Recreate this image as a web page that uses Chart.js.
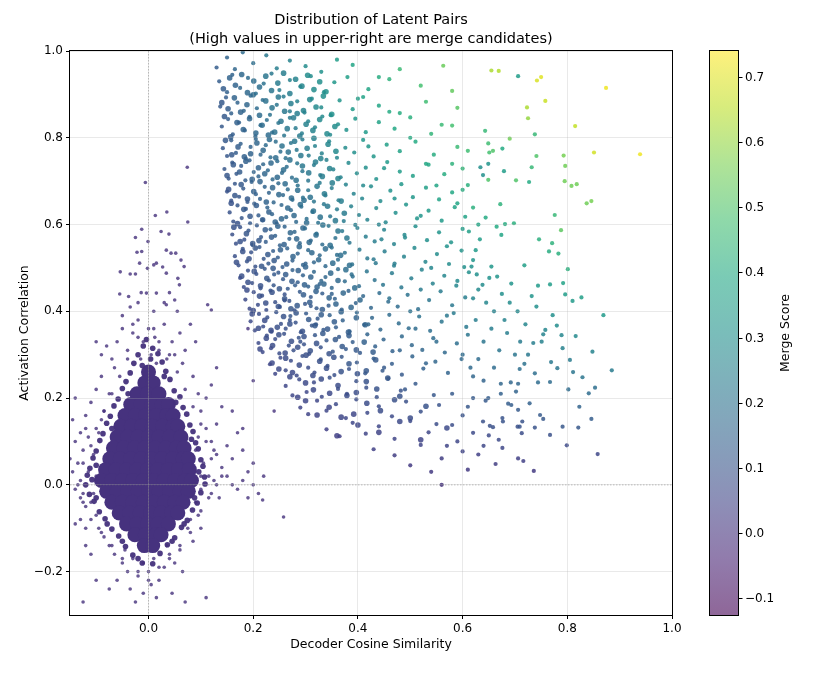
<!DOCTYPE html>
<html>
<head>
<meta charset="utf-8">
<script src="https://cdn.jsdelivr.net/npm/chart.js@4.4.1/dist/chart.umd.min.js"></script>
<style>
  html, body { margin: 0; padding: 0; background: #fff; }
  #wrap { width: 824px; height: 679px; }
</style>
</head>
<body>
<div id="wrap"><canvas id="chart" width="824" height="679"></canvas></div>
<script>
// tick values
const xTicks = [0, 0.2, 0.4, 0.6, 0.8, 1.0];
const yTicks = [-0.2, 0, 0.2, 0.4, 0.6, 0.8, 1.0];
const scoreTicks = [-0.1, 0, 0.1, 0.2, 0.3, 0.4, 0.5, 0.6, 0.7];
const scoreMin = -0.126;
const scoreMax = 0.74;

// unrelated pairs: merge score close to zero
const coreScore = -0.005;

// dense centre of the unrelated pairs, [cosine, correlation]
const coreBlob = [
  [0, 0.26],
  [-0.007, 0.235], [0.009, 0.235],
  [-0.022, 0.21], [-0.002, 0.21], [0.02, 0.21],
  [-0.034, 0.185], [-0.014, 0.185], [0.006, 0.185], [0.026, 0.185], [0.038, 0.185],
  [-0.045, 0.16], [-0.025, 0.16], [-0.005, 0.16], [0.015, 0.16], [0.035, 0.16], [0.047, 0.16],
  [-0.053, 0.135], [-0.033, 0.135], [-0.013, 0.135], [0.007, 0.135], [0.027, 0.135], [0.047, 0.135], [0.056, 0.135],
  [-0.06, 0.11], [-0.04, 0.11], [-0.02, 0.11], [0, 0.11], [0.02, 0.11], [0.04, 0.11], [0.062, 0.11],
  [-0.067, 0.085], [-0.047, 0.085], [-0.027, 0.085], [-0.007, 0.085], [0.013, 0.085], [0.033, 0.085], [0.053, 0.085], [0.068, 0.085],
  [-0.074, 0.06], [-0.054, 0.06], [-0.034, 0.06], [-0.014, 0.06], [0.006, 0.06], [0.026, 0.06], [0.046, 0.06], [0.066, 0.06], [0.076, 0.06],
  [-0.082, 0.035], [-0.062, 0.035], [-0.042, 0.035], [-0.022, 0.035], [-0.002, 0.035], [0.018, 0.035], [0.038, 0.035], [0.058, 0.035], [0.078, 0.035],
  [-0.09, 0.01], [-0.07, 0.01], [-0.05, 0.01], [-0.03, 0.01], [-0.01, 0.01], [0.01, 0.01], [0.03, 0.01], [0.05, 0.01], [0.07, 0.01], [0.082, 0.01],
  [-0.08, -0.015], [-0.06, -0.015], [-0.04, -0.015], [-0.02, -0.015], [0, -0.015], [0.02, -0.015], [0.04, -0.015], [0.06, -0.015], [0.076, -0.015],
  [-0.07, -0.04], [-0.05, -0.04], [-0.03, -0.04], [-0.01, -0.04], [0.01, -0.04], [0.03, -0.04], [0.05, -0.04], [0.066, -0.04],
  [-0.056, -0.065], [-0.036, -0.065], [-0.016, -0.065], [0.004, -0.065], [0.024, -0.065], [0.044, -0.065], [0.056, -0.065],
  [-0.042, -0.09], [-0.022, -0.09], [-0.002, -0.09], [0.018, -0.09], [0.038, -0.09],
  [-0.026, -0.115], [-0.006, -0.115], [0.014, -0.115], [0.024, -0.115],
  [-0.008, -0.14], [0.008, -0.14]
];

// speckled edge right around the centre
const coreHalo = [
  [-0.01, 0.32], [0.008, 0.315], [-0.02, 0.3], [0.018, 0.302], [-0.028, 0.28], [0.026, 0.283],
  [-0.035, 0.258], [0.033, 0.262], [-0.043, 0.238], [0.041, 0.243], [-0.05, 0.222], [0.049, 0.217],
  [-0.058, 0.198], [0.06, 0.203], [-0.066, 0.182], [0.066, 0.178], [-0.073, 0.158], [0.073, 0.163],
  [-0.08, 0.142], [0.079, 0.138], [-0.087, 0.118], [0.085, 0.123], [-0.093, 0.102], [0.09, 0.097],
  [-0.1, 0.078], [0.095, 0.083], [-0.106, 0.062], [0.1, 0.058], [-0.112, 0.038], [0.104, 0.043],
  [-0.117, 0.022], [0.107, 0.018], [-0.12, 0], [0.108, 0.002], [-0.113, -0.022], [0.1, -0.018],
  [-0.104, -0.038], [0.093, -0.042], [-0.094, -0.062], [0.084, -0.058], [-0.083, -0.078], [0.074, -0.082],
  [-0.07, -0.102], [0.063, -0.098], [-0.057, -0.118], [0.05, -0.122], [-0.044, -0.142], [0.036, -0.138],
  [-0.03, -0.162], [0.022, -0.158], [-0.012, -0.18], [0.008, -0.182],
  [-0.004, 0.335], [0.004, 0.29], [-0.012, 0.275], [0.03, 0.25], [-0.039, 0.21], [0.052, 0.19],
  [-0.07, 0.13], [0.082, 0.105], [-0.1, 0.045], [0.096, 0.03], [-0.108, 0.012], [-0.1, -0.03],
  [0.088, -0.03], [-0.079, -0.09], [0.068, -0.09], [-0.05, -0.13], [0.045, -0.13], [-0.02, -0.17]
];

// scattered unrelated pairs around the centre
const coreFringe = [
  [0.074, 0.732], [-0.006, 0.697], [0.013, 0.621], [0.035, 0.629], [0.075, 0.606], [-0.013, 0.589],
  [-0.001, 0.561], [0.024, 0.584], [0.039, 0.578], [-0.025, 0.57], [-0.022, 0.536], [-0.013, 0.538],
  [0.034, 0.541], [0.043, 0.534], [0.052, 0.534], [-0.017, 0.511], [0.01, 0.507], [0.015, 0.511],
  [0.062, 0.518], [0.068, 0.503], [-0.054, 0.491], [-0.035, 0.486], [-0.025, 0.486], [-0.002, 0.499],
  [0.027, 0.502], [0.034, 0.488], [0.056, 0.476], [0.059, 0.461], [-0.055, 0.44], [-0.038, 0.434],
  [-0.014, 0.443], [-0.004, 0.442], [0.015, 0.442], [0.04, 0.443], [0.113, 0.415], [0.12, 0.403],
  [0.05, 0.426], [0.034, 0.415],
  [-0.06, 0.33], [-0.05, 0.36], [-0.04, 0.31], [-0.03, 0.35], [-0.02, 0.38], [-0.01, 0.33], [0, 0.36],
  [0.005, 0.3], [0.012, 0.34], [0.02, 0.31], [0.03, 0.37], [0.035, 0.29], [0.045, 0.33], [0.05, 0.3],
  [0.06, 0.35], [0.07, 0.31], [0.08, 0.37], [-0.07, 0.29], [-0.08, 0.32], [-0.1, 0.33], [-0.09, 0.3],
  [-0.035, 0.41], [-0.02, 0.42], [0.01, 0.4], [0.03, 0.42], [0.055, 0.4], [0.09, 0.33], [-0.05, 0.39],
  [0.015, 0.28], [-0.015, 0.29],
  [-0.09, 0.25], [-0.1, 0.22], [-0.11, 0.19], [-0.12, 0.16], [-0.13, 0.12], [-0.14, 0.1], [-0.125, 0.08],
  [-0.135, 0.05], [-0.145, 0.03], [-0.13, 0.01], [-0.14, -0.01], [-0.125, -0.02], [-0.115, 0.03],
  [-0.105, 0.07], [-0.095, 0.12], [-0.085, 0.17], [-0.075, 0.21], [-0.115, 0.11], [-0.12, -0.05],
  [-0.11, -0.04], [-0.13, -0.08], [-0.14, -0.09], [-0.1, -0.07], [-0.095, -0.1], [-0.085, -0.12],
  [-0.075, -0.14], [-0.065, -0.16], [-0.12, -0.14], [-0.11, -0.16], [-0.145, 0.15], [-0.1, 0.02],
  [-0.105, -0.02], [-0.09, 0.15], [-0.14, 0.2],
  [0.085, 0.25], [0.095, 0.21], [0.1, 0.17], [0.11, 0.13], [0.12, 0.1], [0.13, 0.07], [0.14, 0.04],
  [0.15, 0.02], [0.16, 0], [0.17, -0.01], [0.18, 0.01], [0.19, 0.03], [0.2, 0], [0.105, 0.05],
  [0.115, 0.02], [0.1, -0.01], [0.12, -0.02], [0.135, -0.03], [0.09, -0.04], [0.1, -0.06], [0.08, -0.08],
  [0.075, -0.1], [0.085, -0.13], [0.095, 0.11], [0.13, 0.14], [0.15, 0.09], [0.16, 0.06], [0.14, 0.18],
  [0.12, 0.23], [0.17, 0.12], [0.18, 0.08], [0.2, 0.05], [0.21, -0.02], [0.19, -0.03], [0.22, 0.02],
  [0.11, 0.2], [0.09, 0.08], [0.1, 0.02], [0.13, 0],
  [-0.05, -0.18], [-0.04, -0.2], [-0.03, -0.17], [-0.02, -0.21], [-0.01, -0.18], [0, -0.2], [0.01, -0.17],
  [0.02, -0.22], [0.03, -0.19], [0.04, -0.16], [0.05, -0.18], [0.06, -0.15], [0.065, -0.2], [-0.035, -0.24],
  [-0.01, -0.25], [0.005, -0.23], [0.015, -0.26], [-0.025, -0.27], [0.045, -0.25], [0.07, -0.27],
  [-0.06, -0.22], [-0.1, -0.22], [-0.125, -0.27], [0.035, -0.14], [-0.045, -0.15], [0.11, -0.26], [-0.075, -0.24],
  [0.16, 0.17], [0.18, 0.13], [0.2, 0.24], [0.13, 0.27], [0.218, -0.035], [0.258, -0.074], [0.24, 0.17], [0.19, 0.36],
  [-0.02, 0.34], [0.02, 0.33], [-0.04, 0.29], [0.04, 0.3], [-0.055, 0.25], [0.055, 0.26], [-0.07, 0.21],
  [0.07, 0.22], [-0.085, 0.17], [0.085, 0.18], [-0.1, 0.13], [0.1, 0.14], [-0.11, 0.09], [0.11, 0.1],
  [-0.125, 0.05], [0.12, 0.06], [-0.135, 0], [0.125, 0.01], [-0.125, -0.04], [0.115, -0.03], [-0.11, -0.08],
  [0.095, -0.07], [-0.09, -0.11], [0.08, -0.11], [-0.07, -0.14], [0.06, -0.14], [-0.05, -0.17], [0.04, -0.17],
  [-0.02, -0.2], [0.02, -0.19], [0, -0.22], [-0.03, 0.37], [0.01, 0.36], [-0.065, 0.27], [0.065, 0.28],
  [-0.12, 0.13], [0.125, 0.08], [-0.15, 0.06], [0.14, 0.02], [-0.13, -0.03], [-0.12, -0.1], [0.1, -0.1]
];

// related pairs, [cosine, correlation, merge score]
const clusterPoints = [
  [0.13,0.962,0.13],[0.15,0.985,0.15],[0.165,0.958,0.16],[0.18,0.997,0.18],[0.2,0.972,0.19],[0.225,0.99,0.22],[0.245,0.96,0.24],
  [0.27,0.978,0.26],[0.3,0.965,0.29],[0.33,0.952,0.31],[0.39,0.968,0.38],[0.48,0.958,0.46],[0.563,0.966,0.54],

  [0.135,0.93,0.13],[0.15,0.905,0.14],[0.16,0.945,0.15],[0.175,0.915,0.16],[0.19,0.938,0.18],[0.205,0.902,0.19],[0.22,0.925,0.2],
  [0.235,0.948,0.22],[0.25,0.91,0.23],[0.27,0.933,0.25],[0.29,0.918,0.27],[0.31,0.942,0.29],[0.335,0.905,0.3],[0.355,0.928,0.33],
  [0.38,0.94,0.36],[0.42,0.912,0.38],[0.46,0.935,0.43],[0.52,0.92,0.48],[0.58,0.908,0.53],

  [0.137,0.872,0.12],[0.148,0.893,0.13],[0.158,0.856,0.14],[0.17,0.881,0.15],[0.182,0.862,0.16],[0.195,0.897,0.17],[0.207,0.868,0.18],
  [0.218,0.887,0.19],[0.232,0.853,0.2],[0.245,0.876,0.21],[0.258,0.895,0.23],[0.27,0.861,0.23],[0.284,0.884,0.25],[0.298,0.858,0.26],
  [0.312,0.89,0.28],[0.33,0.87,0.29],[0.348,0.852,0.3],[0.365,0.886,0.32],[0.39,0.866,0.34],[0.41,0.894,0.37],[0.44,0.874,0.38],
  [0.48,0.857,0.41],[0.53,0.883,0.47],[0.59,0.869,0.51],

  [0.14,0.826,0.12],[0.152,0.843,0.13],[0.161,0.808,0.13],[0.173,0.835,0.14],[0.184,0.817,0.15],[0.193,0.848,0.16],[0.204,0.803,0.16],
  [0.214,0.829,0.18],[0.226,0.841,0.19],[0.236,0.812,0.19],[0.248,0.834,0.21],[0.259,0.805,0.21],[0.27,0.846,0.23],[0.281,0.822,0.23],
  [0.293,0.81,0.24],[0.305,0.838,0.26],[0.318,0.824,0.26],[0.332,0.849,0.28],[0.347,0.807,0.28],[0.362,0.831,0.3],[0.378,0.818,0.31],
  [0.395,0.844,0.33],[0.415,0.813,0.34],[0.44,0.836,0.37],[0.47,0.821,0.39],[0.5,0.847,0.42],[0.54,0.809,0.44],[0.58,0.828,0.48],

  [0.142,0.776,0.11],[0.15,0.758,0.11],[0.158,0.794,0.13],[0.167,0.765,0.13],[0.176,0.786,0.14],[0.186,0.752,0.14],[0.195,0.779,0.15],
  [0.205,0.797,0.16],[0.214,0.761,0.16],[0.224,0.783,0.18],[0.233,0.755,0.18],[0.243,0.791,0.19],[0.252,0.768,0.19],[0.262,0.753,0.2],
  [0.272,0.788,0.21],[0.283,0.772,0.22],[0.294,0.796,0.23],[0.306,0.759,0.23],[0.318,0.781,0.25],[0.331,0.764,0.25],[0.345,0.792,0.27],
  [0.36,0.754,0.27],[0.376,0.777,0.29],[0.393,0.766,0.3],[0.41,0.795,0.33],[0.43,0.757,0.33],[0.455,0.784,0.36],[0.48,0.769,0.37],
  [0.51,0.791,0.4],[0.545,0.761,0.41],[0.59,0.779,0.46],

  [0.145,0.728,0.11],[0.153,0.706,0.11],[0.16,0.743,0.12],[0.168,0.717,0.12],[0.177,0.735,0.13],[0.185,0.702,0.13],[0.193,0.748,0.14],
  [0.201,0.721,0.15],[0.21,0.711,0.15],[0.219,0.739,0.16],[0.228,0.725,0.17],[0.237,0.704,0.17],[0.246,0.746,0.18],[0.255,0.719,0.18],
  [0.264,0.733,0.19],[0.274,0.708,0.19],[0.284,0.741,0.21],[0.294,0.723,0.21],[0.305,0.701,0.21],[0.316,0.737,0.23],[0.328,0.714,0.23],
  [0.34,0.749,0.25],[0.353,0.727,0.26],[0.367,0.709,0.26],[0.382,0.742,0.28],[0.398,0.718,0.29],[0.415,0.731,0.3],[0.435,0.705,0.31],
  [0.456,0.744,0.34],[0.48,0.722,0.35],[0.505,0.712,0.36],[0.535,0.738,0.39],[0.565,0.716,0.41],[0.6,0.729,0.44],

  [0.15,0.676,0.1],[0.158,0.655,0.1],[0.165,0.694,0.11],[0.173,0.664,0.11],[0.181,0.683,0.12],[0.189,0.652,0.12],[0.197,0.698,0.14],
  [0.205,0.67,0.14],[0.213,0.659,0.14],[0.222,0.687,0.15],[0.23,0.673,0.15],[0.239,0.651,0.16],[0.248,0.695,0.17],[0.257,0.668,0.17],
  [0.266,0.681,0.18],[0.275,0.657,0.18],[0.285,0.69,0.2],[0.295,0.662,0.2],[0.305,0.679,0.21],[0.316,0.653,0.21],[0.327,0.696,0.23],
  [0.338,0.667,0.23],[0.35,0.684,0.24],[0.363,0.656,0.24],[0.377,0.692,0.26],[0.392,0.671,0.26],[0.408,0.66,0.27],[0.425,0.688,0.29],
  [0.443,0.654,0.29],[0.462,0.678,0.31],[0.483,0.693,0.33],[0.505,0.663,0.33],[0.53,0.685,0.36],[0.555,0.658,0.37],[0.58,0.674,0.39],
  [0.61,0.691,0.42],

  [0.155,0.628,0.1],[0.162,0.607,0.1],[0.17,0.644,0.11],[0.178,0.615,0.11],[0.186,0.636,0.12],[0.194,0.603,0.12],[0.202,0.648,0.13],
  [0.21,0.621,0.13],[0.218,0.61,0.13],[0.227,0.639,0.15],[0.236,0.624,0.15],[0.245,0.602,0.15],[0.254,0.645,0.16],[0.263,0.617,0.16],
  [0.272,0.633,0.17],[0.282,0.606,0.17],[0.292,0.641,0.19],[0.302,0.613,0.19],[0.313,0.629,0.2],[0.324,0.604,0.2],[0.335,0.647,0.22],
  [0.347,0.619,0.21],[0.36,0.635,0.23],[0.373,0.608,0.23],[0.387,0.642,0.25],[0.402,0.622,0.25],[0.418,0.611,0.26],[0.435,0.638,0.28],
  [0.453,0.605,0.27],[0.472,0.627,0.3],[0.492,0.646,0.32],[0.513,0.614,0.32],[0.535,0.632,0.34],[0.56,0.609,0.34],[0.585,0.64,0.37],
  [0.605,0.618,0.37],[0.59,0.649,0.38],

  [0.16,0.577,0.09],[0.167,0.556,0.09],[0.175,0.594,0.1],[0.183,0.565,0.1],[0.191,0.586,0.11],[0.199,0.553,0.11],[0.207,0.598,0.12],
  [0.215,0.571,0.12],[0.224,0.56,0.13],[0.233,0.589,0.14],[0.242,0.574,0.14],[0.251,0.552,0.14],[0.26,0.595,0.15],[0.269,0.567,0.15],
  [0.279,0.583,0.16],[0.289,0.557,0.16],[0.299,0.591,0.18],[0.31,0.563,0.17],[0.321,0.579,0.19],[0.332,0.554,0.18],[0.344,0.597,0.21],
  [0.357,0.569,0.2],[0.37,0.585,0.22],[0.384,0.558,0.21],[0.399,0.592,0.24],[0.415,0.572,0.24],[0.432,0.561,0.24],[0.45,0.588,0.26],
  [0.469,0.555,0.26],[0.489,0.576,0.28],[0.51,0.596,0.3],[0.532,0.564,0.3],[0.555,0.582,0.32],[0.578,0.559,0.32],[0.6,0.59,0.35],
  [0.445,0.566,0.25],[0.395,0.599,0.24],

  [0.165,0.527,0.09],[0.172,0.506,0.09],[0.18,0.544,0.1],[0.188,0.515,0.1],[0.196,0.536,0.1],[0.204,0.503,0.1],[0.212,0.548,0.12],
  [0.22,0.521,0.11],[0.229,0.51,0.12],[0.238,0.539,0.13],[0.247,0.524,0.13],[0.256,0.502,0.13],[0.265,0.545,0.14],[0.275,0.517,0.14],
  [0.285,0.533,0.15],[0.295,0.507,0.15],[0.305,0.541,0.17],[0.316,0.513,0.16],[0.327,0.529,0.17],[0.338,0.504,0.17],[0.35,0.547,0.19],
  [0.362,0.519,0.19],[0.375,0.535,0.2],[0.389,0.508,0.2],[0.403,0.542,0.22],[0.418,0.522,0.22],[0.434,0.511,0.22],[0.451,0.538,0.24],
  [0.469,0.505,0.24],[0.488,0.526,0.26],[0.508,0.546,0.28],[0.529,0.514,0.27],[0.551,0.532,0.29],[0.574,0.509,0.29],[0.598,0.54,0.32],
  [0.62,0.518,0.32],[0.36,0.53,0.19],[0.3,0.51,0.15],

  [0.175,0.477,0.08],[0.182,0.456,0.08],[0.19,0.494,0.09],[0.198,0.465,0.09],[0.206,0.486,0.1],[0.214,0.453,0.1],[0.222,0.498,0.11],
  [0.23,0.471,0.11],[0.239,0.46,0.11],[0.248,0.489,0.12],[0.257,0.474,0.12],[0.266,0.452,0.12],[0.275,0.495,0.14],[0.285,0.467,0.13],
  [0.295,0.483,0.14],[0.305,0.457,0.14],[0.316,0.491,0.16],[0.327,0.463,0.15],[0.338,0.479,0.16],[0.35,0.454,0.16],[0.362,0.497,0.18],
  [0.375,0.469,0.18],[0.388,0.485,0.19],[0.402,0.458,0.18],[0.417,0.492,0.21],[0.432,0.472,0.2],[0.448,0.461,0.21],[0.465,0.488,0.23],
  [0.483,0.455,0.22],[0.502,0.476,0.24],[0.522,0.496,0.26],[0.543,0.464,0.25],[0.565,0.482,0.27],[0.588,0.459,0.27],[0.612,0.49,0.3],
  [0.28,0.46,0.13],[0.33,0.47,0.16],[0.24,0.485,0.12],

  [0.185,0.427,0.07],[0.193,0.406,0.07],[0.201,0.444,0.08],[0.209,0.415,0.08],[0.217,0.436,0.09],[0.225,0.403,0.08],[0.233,0.448,0.1],
  [0.242,0.421,0.09],[0.251,0.41,0.1],[0.26,0.439,0.1],[0.269,0.424,0.1],[0.279,0.402,0.1],[0.289,0.445,0.12],[0.299,0.417,0.11],
  [0.31,0.433,0.12],[0.321,0.407,0.12],[0.332,0.441,0.13],[0.344,0.413,0.13],[0.356,0.429,0.14],[0.369,0.404,0.14],[0.382,0.447,0.15],
  [0.396,0.419,0.15],[0.41,0.435,0.16],[0.425,0.408,0.16],[0.441,0.442,0.18],[0.458,0.422,0.18],[0.476,0.411,0.18],[0.495,0.438,0.2],
  [0.515,0.405,0.19],[0.536,0.426,0.21],[0.558,0.446,0.23],[0.58,0.414,0.22],[0.605,0.432,0.24],[0.26,0.425,0.1],[0.31,0.412,0.12],
  [0.35,0.44,0.14],

  [0.195,0.377,0.07],[0.203,0.356,0.07],[0.211,0.394,0.08],[0.219,0.365,0.08],[0.227,0.386,0.09],[0.235,0.353,0.08],[0.244,0.398,0.1],
  [0.253,0.371,0.09],[0.262,0.36,0.09],[0.271,0.389,0.11],[0.281,0.374,0.1],[0.291,0.352,0.1],[0.301,0.395,0.12],[0.312,0.367,0.11],
  [0.323,0.383,0.12],[0.334,0.357,0.12],[0.346,0.391,0.14],[0.358,0.363,0.13],[0.371,0.379,0.14],[0.384,0.354,0.14],[0.398,0.397,0.16],
  [0.412,0.369,0.15],[0.427,0.385,0.16],[0.443,0.358,0.16],[0.46,0.392,0.18],[0.478,0.372,0.18],[0.497,0.361,0.18],[0.517,0.388,0.2],
  [0.538,0.355,0.19],[0.56,0.376,0.21],[0.583,0.396,0.23],[0.607,0.364,0.22],[0.27,0.38,0.1],[0.32,0.37,0.12],

  [0.21,0.327,0.07],[0.218,0.306,0.07],[0.226,0.344,0.08],[0.234,0.315,0.07],[0.242,0.336,0.08],[0.25,0.303,0.08],[0.259,0.348,0.09],
  [0.268,0.321,0.09],[0.277,0.31,0.09],[0.287,0.339,0.1],[0.297,0.324,0.1],[0.307,0.302,0.09],[0.318,0.345,0.11],[0.329,0.317,0.1],
  [0.34,0.333,0.11],[0.352,0.307,0.11],[0.364,0.341,0.12],[0.377,0.313,0.12],[0.39,0.329,0.13],[0.404,0.304,0.12],[0.418,0.347,0.15],
  [0.433,0.319,0.14],[0.449,0.335,0.15],[0.466,0.308,0.14],[0.484,0.342,0.17],[0.503,0.322,0.16],[0.523,0.311,0.16],[0.544,0.338,0.18],
  [0.566,0.305,0.17],[0.589,0.326,0.19],[0.61,0.346,0.21],[0.29,0.33,0.1],

  [0.232,0.278,0.06],[0.242,0.256,0.06],[0.252,0.293,0.07],[0.262,0.264,0.07],[0.272,0.286,0.08],[0.283,0.252,0.07],[0.294,0.297,0.09],
  [0.305,0.27,0.08],[0.317,0.259,0.08],[0.329,0.289,0.1],[0.342,0.274,0.09],[0.355,0.253,0.09],[0.369,0.295,0.11],[0.383,0.267,0.1],
  [0.398,0.282,0.11],[0.414,0.257,0.11],[0.43,0.291,0.13],[0.447,0.263,0.12],[0.465,0.279,0.13],[0.484,0.254,0.12],[0.504,0.296,0.15],
  [0.525,0.268,0.14],[0.548,0.284,0.16],[0.572,0.258,0.15],[0.598,0.29,0.17],

  [0.262,0.228,0.06],[0.275,0.206,0.06],[0.288,0.243,0.07],[0.302,0.214,0.06],[0.316,0.236,0.07],[0.331,0.203,0.07],[0.346,0.247,0.09],
  [0.362,0.221,0.08],[0.379,0.21,0.08],[0.397,0.239,0.09],[0.416,0.224,0.09],[0.436,0.202,0.09],[0.458,0.245,0.11],[0.482,0.217,0.1],
  [0.51,0.233,0.12],[0.545,0.207,0.11],

  [0.29,0.178,0.05],[0.305,0.163,0.05],[0.322,0.194,0.06],[0.34,0.171,0.06],[0.358,0.186,0.07],[0.377,0.154,0.06],[0.397,0.197,0.08],
  [0.418,0.166,0.07],[0.44,0.181,0.08],[0.465,0.158,0.07],[0.492,0.192,0.09],[0.52,0.169,0.09],[0.555,0.184,0.1],

  [0.34,0.128,0.04],[0.365,0.112,0.04],[0.39,0.143,0.06],[0.415,0.118,0.05],[0.44,0.135,0.06],[0.47,0.106,0.05],[0.5,0.147,0.07],
  [0.535,0.121,0.06],[0.58,0.138,0.08],
  [0.43,0.082,0.04],[0.47,0.068,0.03],[0.52,0.092,0.05],[0.56,0.061,0.03],[0.6,0.077,0.05],
  [0.56,0,0],[0.61,0.035,0.02],[0.5,0.045,0.02],[0.54,0.03,0.02],

  [0.42,0.78,0.33],[0.45,0.73,0.33],[0.47,0.66,0.31],[0.44,0.6,0.26],[0.49,0.57,0.28],[0.43,0.52,0.22],[0.46,0.43,0.2],
  [0.5,0.4,0.2],[0.48,0.31,0.15],[0.53,0.28,0.15],[0.55,0.33,0.18],[0.52,0.45,0.23],[0.54,0.5,0.27],[0.57,0.55,0.31],
  [0.52,0.62,0.32],[0.55,0.69,0.38],[0.58,0.74,0.43],[0.5,0.8,0.4],[0.56,0.83,0.46],[0.6,0.68,0.41],[0.59,0.47,0.28],
  [0.57,0.39,0.22],[0.6,0.3,0.18],[0.62,0.25,0.16],[0.58,0.21,0.12],[0.62,0.43,0.27],[0.63,0.6,0.38],[0.61,0.77,0.47],
  [0.46,0.86,0.4],[0.41,0.69,0.28],[0.39,0.48,0.19],[0.42,0.37,0.16],[0.45,0.27,0.12],[0.49,0.22,0.11],[0.51,0.36,0.18],
  [0.53,0.74,0.39],[0.47,0.51,0.24],[0.44,0.94,0.41],[0.36,0.98,0.35],[0.4,0.89,0.36],

  [0.63,0.45,0.28],[0.645,0.42,0.27],[0.66,0.4,0.26],[0.625,0.38,0.24],[0.655,0.36,0.24],[0.64,0.33,0.21],[0.67,0.31,0.21],
  [0.63,0.29,0.18],[0.66,0.27,0.18],[0.685,0.35,0.24],[0.69,0.42,0.29],[0.7,0.3,0.21],[0.675,0.44,0.3],[0.615,0.27,0.17],
  [0.64,0.24,0.15],[0.62,0.2,0.12],[0.6,0.16,0.1],[0.62,0.12,0.07],[0.59,0.1,0.06],[0.63,0.07,0.04],[0.57,0.09,0.05],
  [0.55,0.14,0.08],[0.61,0.18,0.11],[0.64,0.09,0.06],[0.68,0.38,0.26],[0.705,0.4,0.28],[0.72,0.37,0.27],[0.71,0.33,0.23],
  [0.725,0.3,0.22],

  [0.655,0.955,0.63],[0.669,0.954,0.64],[0.706,0.942,0.35],[0.742,0.932,0.69],[0.75,0.94,0.7],[0.874,0.915,0.72],[0.758,0.885,0.67],
  [0.723,0.87,0.63],[0.725,0.845,0.6],[0.815,0.827,0.66],[0.738,0.808,0.45],[0.643,0.816,0.45],[0.69,0.798,0.55],[0.649,0.787,0.47],
  [0.658,0.77,0.5],[0.651,0.766,0.48],[0.676,0.775,0.4],[0.741,0.758,0.5],[0.793,0.759,0.56],[0.796,0.735,0.55],[0.851,0.766,0.68],
  [0.939,0.762,0.72],[0.634,0.732,0.3],[0.639,0.714,0.3],[0.649,0.74,0.32],[0.679,0.723,0.35],[0.732,0.732,0.45],[0.727,0.698,0.4],
  [0.702,0.702,0.5],[0.649,0.703,0.5],[0.795,0.7,0.55],[0.808,0.689,0.55],[0.818,0.693,0.55],[0.837,0.649,0.55],[0.846,0.654,0.56],
  [0.672,0.647,0.43],[0.776,0.622,0.45],[0.644,0.616,0.4],[0.62,0.639,0.42],[0.788,0.587,0.52],[0.665,0.595,0.4],[0.681,0.601,0.41],
  [0.698,0.603,0.42],[0.674,0.576,0.38],[0.612,0.584,0.36],[0.633,0.566,0.35],[0.746,0.566,0.42],[0.771,0.557,0.43],[0.765,0.538,0.41],
  [0.783,0.533,0.42],[0.801,0.497,0.42],[0.718,0.506,0.36],[0.625,0.541,0.34],[0.603,0.502,0.3],[0.617,0.503,0.31],[0.627,0.485,0.3],
  [0.655,0.503,0.33],[0.651,0.477,0.31],[0.666,0.48,0.32],[0.693,0.464,0.32],[0.638,0.461,0.29],[0.767,0.462,0.35],[0.792,0.465,0.37],
  [0.744,0.459,0.34],[0.732,0.435,0.32],[0.796,0.439,0.35],[0.81,0.424,0.34],[0.827,0.432,0.36],[0.741,0.411,0.3],[0.869,0.391,0.34],
  [0.772,0.391,0.3],[0.78,0.367,0.29],[0.789,0.345,0.27],[0.758,0.357,0.27],[0.754,0.347,0.26],[0.751,0.33,0.25],[0.735,0.327,0.24],
  [0.816,0.343,0.28],[0.848,0.307,0.26],[0.885,0.264,0.23],[0.805,0.288,0.23],[0.811,0.26,0.21],[0.829,0.248,0.21],[0.781,0.269,0.21],
  [0.769,0.283,0.22],[0.738,0.257,0.19],[0.744,0.236,0.18],[0.767,0.237,0.18],[0.791,0.315,0.25],[0.709,0.267,0.19],[0.718,0.279,0.2],
  [0.802,0.22,0.18],[0.853,0.224,0.19],[0.841,0.211,0.18],[0.823,0.18,0.15],[0.846,0.152,0.13],[0.821,0.132,0.11],[0.791,0.134,0.11],
  [0.858,0.071,0.06],[0.799,0.091,0.07],[0.736,0.032,0.02],[0.706,0.061,0.04],[0.716,0.055,0.04],[0.663,0.048,0.03],[0.713,0.119,0.08],
  [0.705,0.134,0.09],[0.687,0.187,0.13],[0.693,0.184,0.13],[0.673,0.233,0.16],[0.673,0.21,0.14],[0.676,0.154,0.1],[0.677,0.146,0.1],
  [0.658,0.133,0.09],[0.65,0.114,0.07],[0.669,0.104,0.07],[0.676,0.085,0.06],[0.639,0.146,0.09],[0.652,0.136,0.09],[0.649,0.2,0.13],
  [0.644,0.194,0.12],[0.692,0.236,0.16],[0.702,0.215,0.15],[0.706,0.233,0.16],[0.728,0.188,0.14],[0.748,0.161,0.12],[0.754,0.152,0.11],
  [0.738,0.132,0.1],[0.767,0.115,0.09],[0.706,0.173,0.12],[0.714,0.146,0.1],[0.709,0.134,0.1]
];

// further related pairs in the crowded part, [cosine, correlation, merge score]
const clusterDense = [
  [0.143,0.913,0.13],[0.155,0.938,0.15],[0.166,0.921,0.15],[0.178,0.946,0.17],[0.189,0.904,0.17],[0.201,0.931,0.19],[0.212,0.917,0.19],
  [0.224,0.942,0.21],[0.235,0.909,0.21],[0.247,0.926,0.23],[0.258,0.949,0.24],[0.27,0.902,0.24],[0.281,0.935,0.26],[0.293,0.919,0.27],
  [0.304,0.944,0.29],[0.316,0.911,0.29],[0.327,0.929,0.3],[0.339,0.906,0.31],

  [0.14,0.881,0.12],[0.152,0.867,0.13],[0.164,0.892,0.15],[0.176,0.859,0.15],[0.188,0.876,0.16],[0.2,0.899,0.18],[0.212,0.852,0.18],
  [0.224,0.885,0.2],[0.236,0.869,0.21],[0.248,0.894,0.22],[0.26,0.861,0.22],[0.272,0.879,0.24],[0.284,0.856,0.24],[0.296,0.863,0.26],
  [0.308,0.888,0.27],[0.32,0.871,0.28],[0.334,0.896,0.3],[0.35,0.854,0.3],

  [0.145,0.849,0.12],[0.157,0.802,0.13],[0.169,0.835,0.14],[0.181,0.819,0.15],[0.193,0.844,0.16],[0.205,0.811,0.17],[0.217,0.829,0.18],
  [0.229,0.806,0.18],[0.241,0.813,0.2],[0.253,0.838,0.21],[0.265,0.821,0.22],[0.277,0.846,0.23],[0.289,0.804,0.23],[0.301,0.831,0.25],
  [0.314,0.817,0.26],[0.327,0.842,0.28],[0.341,0.809,0.28],[0.356,0.826,0.29],

  [0.147,0.794,0.12],[0.159,0.761,0.12],[0.171,0.779,0.13],[0.183,0.756,0.14],[0.195,0.763,0.15],[0.207,0.788,0.16],[0.219,0.771,0.17],
  [0.231,0.796,0.18],[0.243,0.754,0.18],[0.255,0.781,0.2],[0.267,0.767,0.2],[0.279,0.792,0.22],[0.291,0.759,0.22],[0.303,0.776,0.24],
  [0.316,0.799,0.25],[0.329,0.752,0.25],[0.343,0.785,0.27],[0.358,0.769,0.28],

  [0.15,0.713,0.11],[0.162,0.738,0.12],[0.174,0.721,0.13],[0.186,0.746,0.14],[0.198,0.704,0.14],[0.21,0.731,0.15],[0.222,0.717,0.16],
  [0.234,0.742,0.17],[0.246,0.709,0.17],[0.258,0.726,0.19],[0.27,0.749,0.2],[0.282,0.702,0.2],[0.294,0.735,0.22],[0.306,0.719,0.22],
  [0.319,0.744,0.24],[0.332,0.711,0.24],[0.346,0.729,0.25],[0.362,0.706,0.26],

  [0.153,0.681,0.1],[0.165,0.667,0.11],[0.177,0.692,0.12],[0.189,0.659,0.12],[0.201,0.676,0.14],[0.213,0.699,0.15],[0.225,0.652,0.15],
  [0.237,0.685,0.16],[0.249,0.669,0.17],[0.261,0.694,0.18],[0.273,0.661,0.18],[0.285,0.679,0.19],[0.297,0.656,0.19],[0.309,0.663,0.2],
  [0.322,0.688,0.22],[0.336,0.671,0.23],[0.351,0.696,0.24],[0.368,0.654,0.24],

  [0.158,0.649,0.1],[0.17,0.602,0.1],[0.182,0.635,0.12],[0.194,0.619,0.12],[0.206,0.644,0.13],[0.218,0.611,0.13],[0.23,0.629,0.14],
  [0.242,0.606,0.15],[0.254,0.613,0.16],[0.266,0.638,0.17],[0.278,0.621,0.17],[0.29,0.646,0.19],[0.302,0.604,0.18],[0.315,0.631,0.2],
  [0.328,0.617,0.2],[0.342,0.642,0.22],[0.357,0.609,0.22],[0.374,0.626,0.23],

  [0.163,0.594,0.1],[0.175,0.561,0.1],[0.187,0.579,0.11],[0.199,0.556,0.11],[0.211,0.563,0.12],[0.223,0.588,0.13],[0.235,0.571,0.13],
  [0.247,0.596,0.15],[0.259,0.554,0.14],[0.271,0.581,0.16],[0.283,0.567,0.16],[0.295,0.592,0.17],[0.307,0.559,0.17],[0.32,0.576,0.18],
  [0.333,0.599,0.2],[0.347,0.552,0.19],[0.362,0.585,0.21],[0.379,0.569,0.22],

  [0.168,0.513,0.09],[0.18,0.538,0.1],[0.192,0.521,0.1],[0.204,0.546,0.11],[0.216,0.504,0.11],[0.228,0.531,0.12],[0.24,0.517,0.12],
  [0.252,0.542,0.14],[0.264,0.509,0.13],[0.276,0.526,0.15],[0.288,0.549,0.16],[0.3,0.502,0.15],[0.312,0.535,0.17],[0.325,0.519,0.17],
  [0.338,0.544,0.18],[0.352,0.511,0.18],[0.367,0.529,0.19],[0.384,0.506,0.19],

  [0.178,0.481,0.09],[0.19,0.467,0.09],[0.202,0.492,0.1],[0.214,0.459,0.1],[0.226,0.476,0.11],[0.238,0.499,0.12],[0.25,0.452,0.11],
  [0.262,0.485,0.13],[0.274,0.469,0.13],[0.286,0.494,0.14],[0.298,0.461,0.14],[0.31,0.479,0.15],[0.322,0.456,0.15],[0.335,0.463,0.16],
  [0.348,0.488,0.17],[0.362,0.471,0.17],[0.377,0.496,0.19],[0.394,0.454,0.18],

  [0.188,0.449,0.08],[0.2,0.402,0.08],[0.212,0.435,0.09],[0.224,0.419,0.09],[0.236,0.444,0.1],[0.248,0.411,0.1],[0.26,0.429,0.11],
  [0.272,0.406,0.11],[0.284,0.413,0.12],[0.296,0.438,0.13],[0.308,0.421,0.13],[0.32,0.446,0.14],[0.332,0.404,0.13],[0.345,0.431,0.15],
  [0.358,0.417,0.15],[0.372,0.442,0.16],[0.387,0.409,0.16],[0.404,0.426,0.17],

  [0.198,0.394,0.08],[0.21,0.361,0.08],[0.222,0.379,0.08],[0.234,0.356,0.08],[0.246,0.363,0.09],[0.258,0.388,0.1],[0.27,0.371,0.1],
  [0.282,0.396,0.11],[0.294,0.354,0.1],[0.306,0.381,0.12],[0.318,0.367,0.12],[0.33,0.392,0.13],[0.342,0.359,0.12],[0.355,0.376,0.13],
  [0.368,0.399,0.15],[0.382,0.352,0.13],[0.397,0.385,0.15],[0.414,0.369,0.15],

  [0.213,0.313,0.07],[0.225,0.338,0.08],[0.237,0.321,0.08],[0.249,0.346,0.09],[0.261,0.304,0.08],[0.273,0.331,0.09],[0.285,0.317,0.09],
  [0.297,0.342,0.1],[0.309,0.309,0.1],[0.321,0.326,0.1],[0.333,0.349,0.12],[0.345,0.302,0.1],[0.357,0.335,0.12],[0.37,0.319,0.12],
  [0.383,0.344,0.13],[0.397,0.311,0.12],[0.412,0.329,0.14],[0.429,0.306,0.13],

  [0.236,0.281,0.07],[0.249,0.267,0.07],[0.262,0.292,0.08],[0.275,0.259,0.07],[0.288,0.276,0.08],[0.301,0.299,0.09],[0.314,0.252,0.08],
  [0.327,0.285,0.09],[0.34,0.269,0.09],[0.354,0.294,0.1],[0.368,0.261,0.1],[0.383,0.279,0.11],[0.399,0.256,0.1],[0.416,0.263,0.11],
  [0.434,0.288,0.12],

  [0.27,0.249,0.07],[0.285,0.202,0.06],[0.3,0.235,0.07],[0.315,0.219,0.07],[0.33,0.244,0.08],[0.346,0.211,0.07],[0.362,0.229,0.08],
  [0.379,0.206,0.08],[0.397,0.213,0.08],[0.416,0.238,0.1],[0.436,0.221,0.1],[0.457,0.246,0.11],[0.48,0.204,0.1],

  [0.3,0.194,0.06],[0.322,0.161,0.05],[0.345,0.179,0.06],[0.368,0.156,0.06],[0.392,0.163,0.06],[0.417,0.188,0.08],[0.443,0.171,0.08],
  [0.47,0.196,0.09],[0.5,0.154,0.08],[0.53,0.181,0.1],
  [0.36,0.113,0.04],[0.4,0.138,0.06],[0.44,0.121,0.05],[0.48,0.146,0.07],[0.52,0.104,0.05],[0.57,0.131,0.07]
];

const FONT = 'DejaVu Sans';

// viridis colormap stops
const viridisStops = ['#440154', '#482475', '#414487', '#355f8d', '#2a788e', '#21918c',
  '#22a884', '#44bf70', '#7ad151', '#bddf26', '#fde725'];

function hexToRgb(h) {
  return [parseInt(h.slice(1, 3), 16), parseInt(h.slice(3, 5), 16), parseInt(h.slice(5, 7), 16)];
}

function viridis(t, alpha) {
  t = Math.min(1, Math.max(0, t));
  const f = t * 10;
  const i = Math.min(9, Math.floor(f));
  const r = f - i;
  const a = hexToRgb(viridisStops[i]);
  const b = hexToRgb(viridisStops[i + 1]);
  const c = a.map((v, k) => Math.round(v + (b[k] - v) * r));
  return `rgba(${c[0]},${c[1]},${c[2]},${alpha})`;
}

function scoreColor(s, alpha) {
  return viridis((s - scoreMin) / (scoreMax - scoreMin), alpha);
}

const fmt = v => (Math.abs(v) < 1e-9 ? 0 : v).toFixed(1).replace('-', '\u2212');

const extras = {
  id: 'extras',
  afterDatasetsDraw(chart) {
    const { ctx, chartArea: a, scales: { x, y } } = chart;
    const x0 = x.getPixelForValue(0);
    const y0 = y.getPixelForValue(0);
    ctx.save();
    ctx.strokeStyle = 'rgba(110,110,110,0.6)';
    ctx.lineWidth = 0.8;
    ctx.setLineDash([1.5, 1.5]);
    ctx.beginPath();
    ctx.moveTo(x0, a.top);
    ctx.lineTo(x0, a.bottom);
    ctx.moveTo(a.left, y0);
    ctx.lineTo(a.right, y0);
    ctx.stroke();
    ctx.restore();
  },
  afterDraw(chart) {
    const { ctx, chartArea: a } = chart;
    ctx.save();

    // frame
    ctx.strokeStyle = '#000';
    ctx.lineWidth = 1;
    ctx.strokeRect(a.left - 0.5, a.top - 0.5, a.width + 1, a.height + 1);

    // title
    ctx.fillStyle = '#000';
    ctx.font = `14.5px "${FONT}"`;
    ctx.textAlign = 'center';
    ctx.textBaseline = 'middle';
    const cx = (a.left + a.right) / 2;
    ctx.fillText('Distribution of Latent Pairs', cx, 20);
    ctx.fillText('(High values in upper-right are merge candidates)', cx, 39);

    // colorbar
    const barL = 709, barW = 29;
    const grad = ctx.createLinearGradient(0, a.bottom, 0, a.top);
    for (let i = 0; i <= 20; i++) grad.addColorStop(i / 20, viridis(i / 20, 0.6));
    ctx.fillStyle = grad;
    ctx.fillRect(barL, a.top, barW, a.height);
    ctx.strokeStyle = '#000';
    ctx.lineWidth = 1;
    ctx.strokeRect(barL + 0.5, a.top - 0.5, barW, a.height + 1);

    const pix = v => a.bottom - (v - scoreMin) / (scoreMax - scoreMin) * a.height;
    ctx.font = `12px "${FONT}"`;
    ctx.textAlign = 'left';
    ctx.fillStyle = '#000';
    scoreTicks.forEach(v => {
      const py = Math.round(pix(v)) + 0.5;
      ctx.beginPath();
      ctx.moveTo(barL + barW + 0.5, py);
      ctx.lineTo(barL + barW + 4.5, py);
      ctx.stroke();
      ctx.fillText(fmt(v), barL + barW + 7, py);
    });

    ctx.translate(786, (a.top + a.bottom) / 2);
    ctx.rotate(-Math.PI / 2);
    ctx.textAlign = 'center';
    ctx.font = `12.5px "${FONT}"`;
    ctx.fillText('Merge Score', 0, 0);
    ctx.restore();
  }
};

const axisFont = { family: FONT, size: 12 };
const gridOpts = {
  color: 'rgba(176,176,176,0.35)',
  lineWidth: 0.8,
  z: 1,
  drawTicks: true,
  tickLength: 4,
  tickColor: '#000',
  tickWidth: 1
};

const toXYS = p => ({ x: p[0], y: p[1], s: p[2] });
const toXY = p => ({ x: p[0], y: p[1] });

new Chart(document.getElementById('chart'), {
  type: 'scatter',
  data: {
    datasets: [
      {
        label: 'related',
        data: clusterPoints.map(toXYS),
        pointRadius: 2.1,
        borderWidth: 0,
        backgroundColor: c => scoreColor(c.raw ? c.raw.s : 0, 0.85)
      },
      {
        label: 'related, crowded',
        data: clusterDense.map(toXYS),
        pointRadius: 2.8,
        borderWidth: 0,
        backgroundColor: c => scoreColor(c.raw ? c.raw.s : 0, 0.85)
      },
      {
        label: 'fringe',
        data: coreFringe.map(toXY),
        pointRadius: 1.8,
        borderWidth: 0,
        backgroundColor: scoreColor(coreScore, 0.8)
      },
      {
        label: 'halo',
        data: coreHalo.map(toXY),
        pointRadius: 2.8,
        borderWidth: 0,
        backgroundColor: scoreColor(coreScore, 0.95)
      },
      {
        label: 'core',
        data: coreBlob.map(toXY),
        pointRadius: 7.5,
        borderWidth: 0,
        backgroundColor: '#46327e'
      }
    ]
  },
  options: {
    responsive: false,
    animation: false,
    events: [],
    layout: { padding: { top: 51, right: 152, bottom: 0, left: 0 } },
    plugins: { legend: { display: false }, tooltip: { enabled: false }, title: { display: false } },
    scales: {
      x: {
        type: 'linear',
        min: -0.15,
        max: 1.0,
        afterBuildTicks: s => { s.ticks = xTicks.map(v => ({ value: v })); },
        afterFit: s => { s.height = 64; },
        ticks: { font: axisFont, color: '#000', padding: 3, callback: v => fmt(v), maxRotation: 0 },
        grid: gridOpts,
        border: { display: false },
        title: { display: true, text: 'Decoder Cosine Similarity', font: { family: FONT, size: 12.5 }, color: '#000', padding: { top: 0, bottom: 27 } }
      },
      y: {
        type: 'linear',
        min: -0.3,
        max: 1.0,
        afterBuildTicks: s => { s.ticks = yTicks.map(v => ({ value: v })); },
        afterFit: s => { s.width = 70; },
        ticks: { font: axisFont, color: '#000', padding: 3, callback: v => fmt(v) },
        grid: gridOpts,
        border: { display: false },
        title: { display: true, text: 'Activation Correlation', font: { family: FONT, size: 12.5 }, color: '#000', padding: { top: 17, bottom: 0 } }
      }
    }
  },
  plugins: [extras]
});
</script>
</body>
</html>
